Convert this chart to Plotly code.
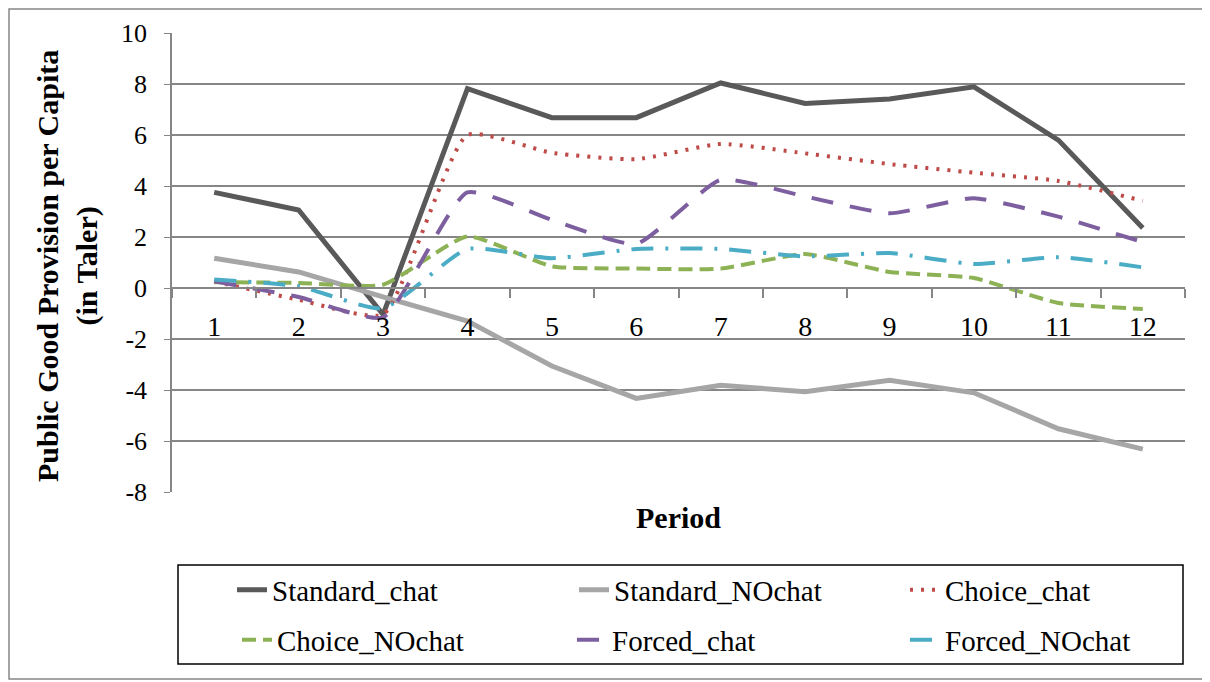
import plotly.graph_objects as go

periods = [str(i) for i in range(1, 13)]
standard_chat = [3.75, 3.06, -1.04, 7.82, 6.68, 6.68, 8.04, 7.24, 7.41, 7.89, 5.80, 2.35]
standard_nochat = [1.17, 0.63, -0.35, -1.30, -3.06, -4.33, -3.81, -4.07, -3.62, -4.11, -5.52, -6.32]
choice_chat = [0.26, -0.46, -1.04, 6.00, 5.30, 5.05, 5.65, 5.28, 4.86, 4.52, 4.20, 3.42]
choice_nochat = [0.23, 0.20, 0.13, 2.02, 0.85, 0.76, 0.76, 1.33, 0.63, 0.39, -0.59, -0.82]
forced_chat = [0.26, -0.35, -1.15, 3.75, 2.67, 1.73, 4.24, 3.59, 2.93, 3.52, 2.80, 1.80]
forced_nochat = [0.33, 0.07, -0.80, 1.53, 1.17, 1.53, 1.53, 1.24, 1.37, 0.94, 1.21, 0.81]
y_ticks = [10, 8, 6, 4, 2, 0, -2, -4, -6, -8]
y_tick_labels = ["10", "8", "6", "4", "2", "0", "-2", "-4", "-6", "-8"]

FONT = "Liberation Serif"
series = [
    ("Standard_chat", standard_chat, "#595959", "solid", "linear", 5),
    ("Standard_NOchat", standard_nochat, "#A6A6A6", "solid", "linear", 5),
    ("Choice_chat", choice_chat, "#BE4B48", "3px,8px", "spline", 4),
    ("Choice_NOchat", choice_nochat, "#8DB255", "14px,7px", "spline", 4),
    ("Forced_chat", forced_chat, "#7D5FA0", "22px,17px", "spline", 4),
    ("Forced_NOchat", forced_nochat, "#4BACC6", "22px,12px,3px,12px", "spline", 4),
]

# page body has an 8px margin: work in reference pixel coords, shifted by OFF
OFF = 8
W, H = 1210 - OFF, 682 - OFF
L = 172 - OFF
T = 33 - OFF
R = W - (1185 - OFF)
B = H - (492 - OFF)
pw = W - L - R
ph = H - T - B

def px_x(x):
    return (x - OFF - L) / pw

def px_y(y):
    return (T + ph - (y - OFF)) / ph

# legend slots: text start x, row center y (reference pixels)
text_x = [272, 614, 945, 277, 612, 945]
row_y = [590, 590, 590, 640, 640, 640]

fig = go.Figure()
legend_layout = {}
for i, (name, vals, color, dash, shape, w) in enumerate(series):
    line = dict(color=color, width=w, dash=dash, shape=shape)
    if shape == "spline":
        line["smoothing"] = 0.5
    lg = "legend" if i == 0 else f"legend{i + 1}"
    fig.add_trace(go.Scatter(x=periods, y=vals, name=name, mode="lines",
                             line=line, legend=lg))
    legend_layout[lg] = dict(x=px_x(text_x[i] - 40), y=px_y(row_y[i]),
                             xanchor="left", yanchor="middle",
                             font=dict(size=29), bgcolor="rgba(0,0,0,0)")

zero_pos = (0 - (-8)) / (10 - (-8))

fig.update_layout(
    width=W, height=H,
    margin=dict(l=L, r=R, t=T, b=B, autoexpand=False),
    paper_bgcolor="white", plot_bgcolor="white",
    font=dict(family=FONT, size=26, color="black"),
    xaxis=dict(type="category", anchor="free", position=zero_pos,
               showline=True, linecolor="#868686", linewidth=1.5,
               ticks="outside", tickson="boundaries", ticklen=9,
               tickcolor="#868686", tickwidth=1.5, showgrid=False,
               ticklabelstandoff=14, tickfont=dict(size=28),
               range=[-0.5, 11.5]),
    yaxis=dict(range=[-8, 10], tickmode="array", tickvals=y_ticks,
               ticktext=y_tick_labels, showgrid=True,
               gridcolor="#868686", gridwidth=1.5, zeroline=False,
               showline=True, linecolor="#868686", linewidth=1.5,
               ticks="outside", ticklen=6, tickcolor="#868686",
               ticklabelstandoff=12, tickfont=dict(size=26)),
    showlegend=True,
    **legend_layout,
)

fig.add_annotation(text="<b>Public Good Provision per Capita</b><br><b>(in Taler)</b>",
                   xref="paper", yref="paper", x=px_x(67), y=px_y(266),
                   textangle=-90, showarrow=False, font=dict(size=30),
                   xanchor="center", yanchor="middle")
fig.add_annotation(text="<b>Period</b>", xref="paper", yref="paper",
                   x=px_x(678), y=px_y(517), showarrow=False,
                   font=dict(size=30), xanchor="center", yanchor="middle")

fig.add_shape(type="rect", xref="paper", yref="paper",
              x0=px_x(178), x1=px_x(1183), y0=px_y(664), y1=px_y(565),
              line=dict(color="black", width=1.5))
fig.add_shape(type="rect", xref="paper", yref="paper",
              x0=px_x(9), x1=px_x(1207), y0=px_y(679), y1=px_y(9),
              line=dict(color="#868686", width=1.5))

fig.write_html("out.html")
